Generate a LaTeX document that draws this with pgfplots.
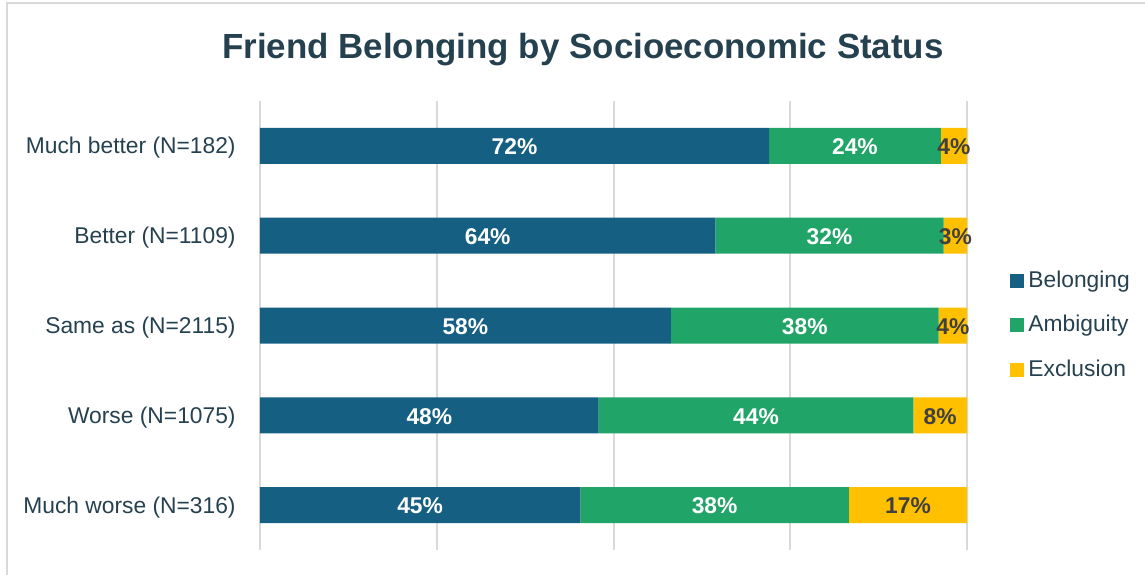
\documentclass[border=0pt]{standalone}
\usepackage{pgfplots}
\pgfplotsset{compat=1.18}
\usepackage{pgfplotstable}
\usepackage{fontspec}
\setmainfont{Liberation Sans}

\definecolor{belong}{HTML}{156082}
\definecolor{ambig}{HTML}{20A467}
\definecolor{excl}{HTML}{FFC000}
\definecolor{txt}{HTML}{25414F}
\definecolor{lbl}{HTML}{404040}
\definecolor{gridc}{HTML}{D9D9D9}

% shares in percent, and the rounded labels
\pgfplotstableread{
pos bel amb exc lbel lamb lexc
0 45.3 38.0 16.7 45 38 17
1 47.9 44.5 7.6 48 44 8
2 58.1 37.9 4.0 58 38 4
3 64.4 32.3 3.3 64 32 3
4 72.0 24.3 3.7 72 24 4
}\data

\newcommand{\lblfont}{\fontsize{11.4}{13.7}\selectfont}

\begin{document}
\begin{tikzpicture}
\useasboundingbox (0,0) rectangle (572.5pt,287.5pt);
\draw[gridc, line width=0.75pt] (3.5pt,0) -- (3.5pt,286pt) -- (572.5pt,286pt);

\node[anchor=base, font=\bfseries\fontsize{17.45}{20}\selectfont, text=txt]
  at (291.5pt,258.5pt) {Friend Belonging by Socioeconomic Status};

\begin{axis}[
  at={(130pt,12.5pt)}, anchor=south west,
  scale only axis, width=353.5pt, height=224.5pt,
  xbar stacked, bar width=18pt,
  xmin=0, xmax=100, ymin=-0.5, ymax=4.5,
  xtick={0,25,50,75,100}, xticklabels={},
  xmajorgrids, major grid style={gridc, line width=1pt},
  ytick={0,...,4},
  yticklabels={Much worse (N=316), Worse (N=1075), Same as (N=2115), Better (N=1109), Much better (N=182)},
  major tick length=0pt,
  axis line style={draw=none},
  yticklabel style={inner sep=0pt, xshift=-12pt, yshift=-1pt, font=\lblfont, text=txt},
  clip=false,
  point meta=explicit symbolic,
  nodes near coords={\pgfplotspointmeta\%},
  every node near coord/.append style={anchor=center, yshift=-0.5pt, font=\bfseries\lblfont},
  legend style={at={(1.0608,0.501)}, anchor=west, draw=none, fill=none,
    font=\lblfont, text=txt, row sep=8.5pt, inner sep=0pt,
    cells={anchor=west}},
  legend image code/.code={\fill[#1] (0pt,-3.5pt) rectangle (7pt,3.5pt);},
]
\addplot[fill=belong, draw=none, every node near coord/.append style={text=white}]
  table[x=bel, y=pos, meta=lbel] {\data};
\addplot[fill=ambig, draw=none, every node near coord/.append style={text=white}]
  table[x=amb, y=pos, meta=lamb] {\data};
\addplot[fill=excl, draw=none, every node near coord/.append style={text=lbl}]
  table[x=exc, y=pos, meta=lexc] {\data};
\legend{Belonging, Ambiguity, Exclusion}
\end{axis}
\end{tikzpicture}
\end{document}
